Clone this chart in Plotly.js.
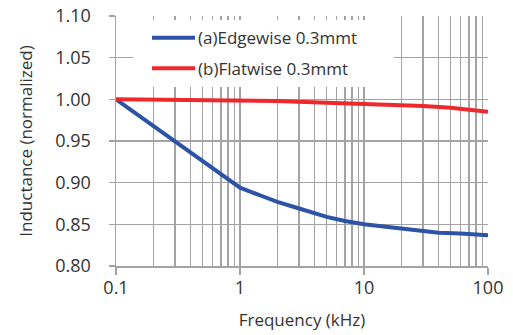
<!DOCTYPE html>
<html>
<head>
<meta charset="utf-8">
<script src="https://cdn.plot.ly/plotly-3.0.1.min.js"></script>
<style>html,body{margin:0;padding:0;background:#fff}#chart{width:513px;height:335px}</style>
</head>
<body>
<div id="chart"></div>
<script>
// Data
var seriesNames = ["(a)Edgewise 0.3mmt", "(b)Flatwise 0.3mmt"];
var edgeFreq = [0.1, 1, 1.5, 2, 3, 4, 5, 7, 10, 15, 20, 30, 40, 60, 100];
var edgeL    = [1.000, 0.894, 0.884, 0.877, 0.869, 0.863, 0.859, 0.854, 0.850, 0.847, 0.845, 0.842, 0.840, 0.839, 0.837];
var flatFreq = [0.1, 1, 2, 5, 10, 20, 30, 50, 100];
var flatL    = [1.000, 0.999, 0.998, 0.996, 0.995, 0.993, 0.992, 0.990, 0.985];
var xTickVals = [0.1, 1, 10, 100];
var xTickText = ["0.1", "1", "10", "100"];
var xMinorVals = [0.2, 0.3, 0.4, 0.5, 0.6, 0.7, 0.8, 0.9,
                  2, 3, 4, 5, 6, 7, 8, 9,
                  20, 30, 40, 50, 60, 70, 80, 90];
var yTickVals = [0.80, 0.85, 0.90, 0.95, 1.00, 1.05, 1.10];
var yTickText = ["0.80", "0.85", "0.90", "0.95", "1.00", "1.05", "1.10"];

var colors = ["#2c53a6", "#ec2a2e"];
var gridC = "#a3a3a3";
var textC = "#333333";
var W = 513, H = 335, L = 116, R = 25, T = 16, B = 69;
function px(x){ return (x - L) / (W - L - R); }
function py(y){ return (H - B - y) / (H - T - B); }

var traces = [
  {x: edgeFreq, y: edgeL, mode: "lines", name: seriesNames[0], line: {color: colors[0], width: 4, shape: "linear"}, showlegend: false},
  {x: flatFreq, y: flatL, mode: "lines", name: seriesNames[1], line: {color: colors[1], width: 4}, showlegend: false}
];

var legendRows = [37.7, 68.3];
var shapes = [
  {type: "rect", xref: "paper", yref: "paper", x0: px(133), x1: px(394), y0: py(87), y1: py(20),
   fillcolor: "#ffffff", line: {width: 0}, layer: "above"}
];
var annotations = [];
for (var i = 0; i < seriesNames.length; i++) {
  shapes.push({type: "line", xref: "paper", yref: "paper", x0: px(152), x1: px(195),
    y0: py(legendRows[i]), y1: py(legendRows[i]), line: {color: colors[i], width: 4}, layer: "above"});
  annotations.push({xref: "paper", yref: "paper", x: px(196), y: py(legendRows[i]),
    xanchor: "left", yanchor: "middle", text: seriesNames[i], showarrow: false,
    font: {size: 17, color: textC, family: "Open Sans"}});
}

var layout = {
  width: W, height: H,
  margin: {l: L, r: R, t: T, b: B},
  paper_bgcolor: "#fff", plot_bgcolor: "#fff",
  font: {family: "Open Sans", color: textC, size: 18},
  showlegend: false,
  xaxis: {
    type: "log", range: [-1, 2],
    tickvals: xTickVals, ticktext: xTickText,
    showgrid: true, gridcolor: gridC, gridwidth: 1.5,
    minor: {tickvals: xMinorVals, showgrid: true, gridcolor: gridC, gridwidth: 1.5, ticks: ""},
    showline: true, linecolor: gridC, linewidth: 1.5,
    ticks: "outside", ticklen: 7, tickcolor: gridC, tickwidth: 1.5,
    ticklabelstandoff: -2,
    tickfont: {size: 18, color: textC},
    zeroline: false,
    title: {text: "Frequency (kHz)", font: {size: 17, color: textC}, standoff: 16}
  },
  yaxis: {
    range: [0.8, 1.1],
    tickvals: yTickVals, ticktext: yTickText,
    showgrid: true, gridcolor: gridC, gridwidth: 1.5,
    showline: true, linecolor: gridC, linewidth: 1.5,
    ticks: "outside", ticklen: 6, tickcolor: gridC, tickwidth: 1.5,
    ticklabelstandoff: 14,
    tickfont: {size: 18, color: textC},
    zeroline: false,
    title: {text: "Inductance (normalized)", font: {size: 17, color: textC}, standoff: 18}
  },
  shapes: shapes,
  annotations: annotations
};

Plotly.newPlot("chart", traces, layout, {displayModeBar: false, staticPlot: true});
</script>
</body>
</html>
